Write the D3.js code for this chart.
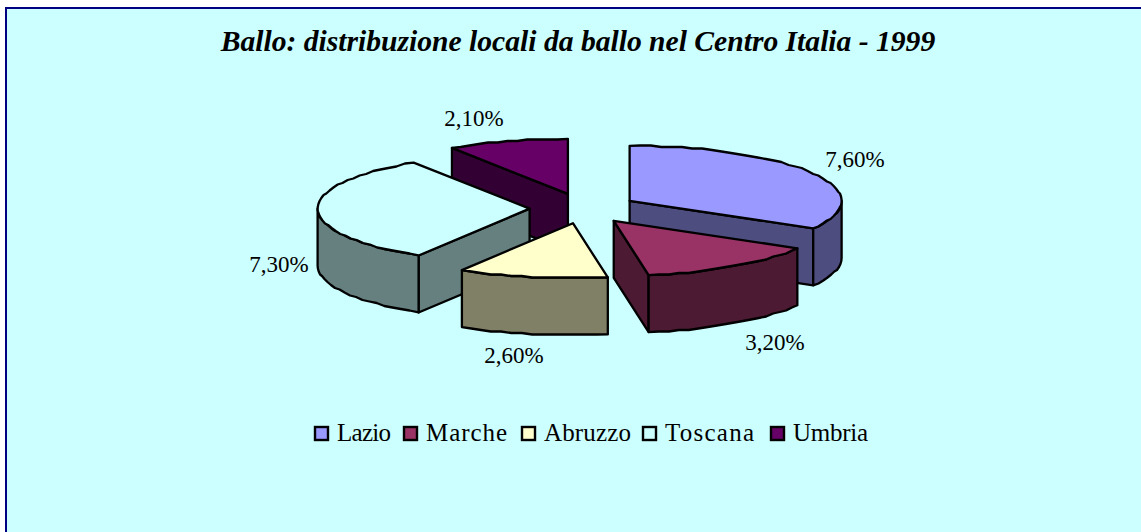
<!DOCTYPE html>
<html><head><meta charset="utf-8">
<style>html,body{margin:0;padding:0;background:#fff}svg{display:block}text{font-family:"Liberation Serif",serif;fill:#000}</style>
<script src="https://cdn.jsdelivr.net/npm/d3@7/dist/d3.min.js"></script>
</head><body><svg id="c" width="1141" height="532"></svg>
<script>
const titleText = "Ballo: distribuzione locali da ballo nel Centro Italia - 1999";
const categories = ["Lazio","Marche","Abruzzo","Toscana","Umbria"];
const values = [7.6,3.2,2.6,7.3,2.1];
const topColors = ["#9999FF","#993366","#FFFFCC","#CCFFFF","#660066"];
const sideColors = ["#4D4D80","#4D1A33","#808066","#668080","#330033"];
const labelPos = [[855,167],[775,350],[514,363],[279,272],[474,126]];
const legendX = [314,403,521,642,770];
const legendW = [54,81,87,89,75];

const svg = d3.select("#c");
const bg = "#CCFFFF";
svg.append("rect").attr("x",6).attr("y",8).attr("width",1160).attr("height",560).attr("fill",bg).attr("stroke","#000080").attr("stroke-width",2);

svg.append("text").attr("x",578).attr("y",51).attr("text-anchor","middle")
  .attr("font-size",29.6).attr("font-weight","bold").attr("font-style","italic").text(titleText);

// projection of the tilted pie
const cx=583.2, cy=208.4, depth=57;
const rx=d3.scaleLinear().domain([0,1]).range([0,212]);
const ry=d3.scaleLinear().domain([0,1]).range([0,55]);
const ex=53.6, ey=15.1;
const arcs=d3.pie().sort(null).startAngle(0).endAngle(2*Math.PI)(values);
const wob=v=>Math.round(v/1.5)*1.5;
const line=d3.line();

arcs.forEach((a,i)=>{a.i=i;const m=(a.startAngle+a.endAngle)/2;a.ox=cx+ex*Math.sin(m);a.oy=cy-ey*Math.cos(m);});
const pt=(a,t,dz=0,snap=false)=>{const x=a.ox+rx(Math.sin(t)),y=a.oy-ry(Math.cos(t))+dz;return snap?[x,wob(y)]:[x,y];};
const rim=(a,t0,t1,dz)=>{const n=Math.max(2,Math.round((t1-t0)/0.05));
  return d3.range(n+1).map(k=>{const t=t0+(t1-t0)*k/n;return pt(a,t,dz,k>0&&k<n);});};
const order=[4,0,3,1,2];
const g=svg.append("g").attr("stroke","#000").attr("stroke-width",2.3).attr("stroke-linejoin","round");
order.forEach(i=>{const a=arcs[i];
  const face=t=>{const p=pt(a,t);return [[a.ox,a.oy],p,[p[0],p[1]+depth],[a.ox,a.oy+depth]];};
  if(-Math.sin(a.startAngle)>1e-6) g.append("path").attr("d",line(face(a.startAngle))+"Z").attr("fill",sideColors[i]);
  if(Math.sin(a.endAngle)>1e-6) g.append("path").attr("d",line(face(a.endAngle))+"Z").attr("fill",sideColors[i]);
  const t0=Math.max(a.startAngle,Math.PI/2),t1=Math.min(a.endAngle,3*Math.PI/2);
  if(t1>t0) g.append("path").attr("d",line(rim(a,t0,t1,0).concat(rim(a,t0,t1,depth).reverse()))+"Z").attr("fill",sideColors[i]);
  g.append("path").attr("d",line([[a.ox,a.oy]].concat(rim(a,a.startAngle,a.endAngle,0)))+"Z").attr("fill",topColors[i]);
});

const fmt=v=>v.toFixed(2).replace(".",",")+"%";
svg.append("g").selectAll("text").data(values).join("text")
  .attr("x",(d,i)=>labelPos[i][0]).attr("y",(d,i)=>labelPos[i][1]).attr("text-anchor","middle")
  .attr("font-size",23).text(fmt);

const lg=svg.append("g");
categories.forEach((c,i)=>{
  lg.append("rect").attr("x",legendX[i]+1).attr("y",427).attr("width",13).attr("height",13).attr("fill",topColors[i]).attr("stroke","#000").attr("stroke-width",2.4);
  lg.append("text").attr("x",legendX[i]+23).attr("y",441).attr("font-size",25).attr("textLength",legendW[i]).attr("lengthAdjust","spacing").text(c);
});
</script></body></html>
